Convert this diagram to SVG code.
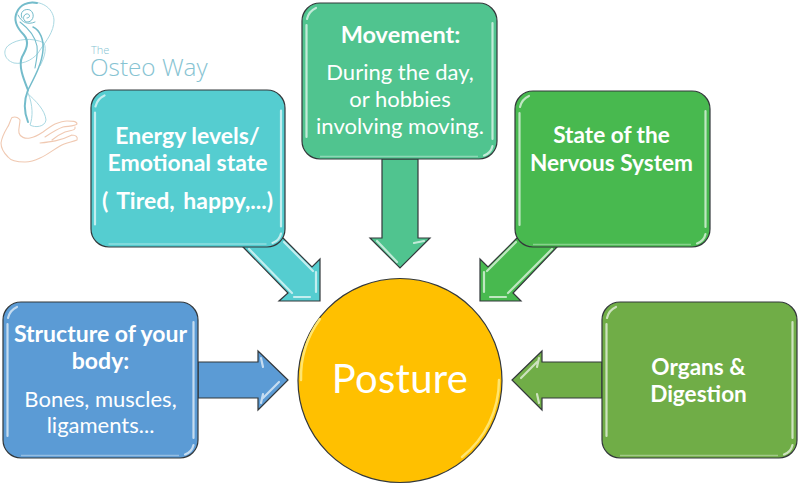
<svg xmlns="http://www.w3.org/2000/svg" xmlns:xlink="http://www.w3.org/1999/xlink" width="800" height="486" viewBox="0 0 800 486">
  <style>
    .outline { stroke: #33383b; stroke-width: 1.2; stroke-linejoin: miter; }
    .gloss { fill: none; stroke: #fff; stroke-width: 2.2; stroke-linecap: round; stroke-opacity: .65; }
    .faint { fill: none; stroke: #fff; stroke-width: 1.4; stroke-opacity: .35; }
    .t { font-family: Lato, "Open Sans", "Liberation Sans", sans-serif; fill: #fff; text-anchor: middle; font-size: 22px; }
    .b { font-weight: 700; font-size: 23px; }
    .b2 { font-weight: 700; font-size: 22.600px; }
    .head { font-weight: 700; font-size: 23.500px; }
    .swirl { fill: none; stroke: #74bccb; stroke-linecap: round; }
    .thin { fill: none; stroke: #a9d8e2; stroke-width: 1; }
    .hand { fill: none; stroke: #f0c9b2; stroke-width: 1.1; stroke-linecap: round; stroke-linejoin: round; }
    .logo { font-family: "Open Sans", Lato, "Liberation Sans", sans-serif; font-weight: 300; fill: #86c3d2; }
  </style>

  <defs>
    <!-- shared bevel highlight for the 195x156 rounded boxes -->
    <g id="box-gloss">
      <path class="gloss" d="M4.500 22V134M190.500 20V136M5 16Q7 8 14 5M190.500 143Q189 150 182 152.500"/>
      <path class="faint" d="M18 153.500H176"/>
    </g>
  </defs>

  <!-- brand mark and wordmark -->
  <g id="logo">
    <path class="thin" d="M28 3C40 0 53 7 54 20C54 32 46 41 40 50C36 58 24 65 14 63C4 60 2 50 9 45C17 39 32 37 44 43C47 50 44 58 40 66"/>
    <path class="thin" d="M27 93C36 101 45 110 46 120C45 127 35 128 30 125"/>
    <path class="swirl" stroke-width="2" d="M37 3C28 1 20 5 17 12C13 20 17 28 24 35C30 42 26 50 22 57C18 66 24 80 28 90C24 100 24 112 28 122"/>
    <path class="swirl" stroke-width="1.5" d="M33 27C40 30 44 40 43 50C42 64 34 78 28 90"/>
    <path class="swirl" stroke-width="1.100" d="M20 22C28 28 35 36 37 46C38 56 36 62 35 68"/>
    <path class="swirl" stroke-width="1" d="M22 18C19 12 25 8 30 10C35 13 34 21 28 22C23 22 22 16 26 14C30 13 31 18 27 18"/>
    <path class="swirl" stroke-width="1" d="M18 15C22 23 28 25 35 22"/>
    <path class="thin" d="M28 93C33 105 33 117 30 125"/>
    <path class="hand" d="M12 117.500C16 116 19 118 20 120C20 125 18 129 19 133C20 137 25 139 30 138C36 137 40 134 43 132C47 129 51 126 55 124C60 122 64 121 67 121C72 121 77 121 77 124C76 126 70 126 63 127C57 129 51 133 45 137M75 127C76 131 70 130 65 132C60 134 57 136 52 140M72 135C76 135 78 137 77 140C72 142 65 143 60 146C53 150 47 155 40 158C34 161 29 162 25 162C17 162 11 161 8 157C3 152 1 148 1 143C2 137 4 133 7 128C10 124 10 120 12 117.500M40 143C50 142 60 141 72 135"/>
    <text class="logo" x="91" y="54" font-size="11">The</text>
    <text class="logo" x="90" y="76" font-size="24.300">Osteo Way</text>
  </g>

  <!-- block arrows pointing at the central circle -->
  <g id="connectors">
    <g id="arrow-structure">
      <path class="outline" fill="#5b9bd5" d="M198 362H258V351L288 380L258 410V398H198Z"/>
      <path class="gloss" d="M261 358L263 367M261 403L263 394M263 398L279 382"/>
    </g>
    <g id="arrow-energy">
      <path class="outline" fill="#55cdd0" d="M243 247L288 293L279 301H320V259L312 267L283 238Z"/>
      <path class="gloss" d="M284 242L313 271M249 249L292 293M294 297H310M316 272V292"/>
    </g>
    <g id="arrow-movement">
      <path class="outline" fill="#50c48f" d="M382 159H418V238H430L400 268L370 238H382Z"/>
      <path class="gloss" d="M377 241L397 262M414 243L424 241"/>
    </g>
    <g id="arrow-nervous">
      <path class="outline" fill="#48b94f" d="M557 247L513 293L521 301H480V259L488 267L517 238Z"/>
      <path class="gloss" d="M516 242L487 271M552 249L508 293M506 297H490M484 272V292"/>
    </g>
    <g id="arrow-organs">
      <path class="outline" fill="#70ad47" d="M602 362H542V351L512 380L542 410V398H602Z"/>
      <path class="gloss" d="M539 358L537 367M539 403L537 394M537 362L521 378"/>
    </g>
  </g>

  <g id="node-structure">
    <rect class="outline" x="3" y="302" width="195" height="156" rx="18" fill="#5b9bd5"/>
    <use href="#box-gloss" xlink:href="#box-gloss" x="3" y="302"/>
    <text class="t b" x="100.500" y="342">Structure of your</text>
    <text class="t b" x="100.500" y="369">body:</text>
    <text class="t" x="100.500" y="407">Bones, muscles,</text>
    <text class="t" x="100.500" y="433">ligaments...</text>
  </g>

  <g id="node-energy">
    <rect class="outline" x="91" y="90" width="194" height="157" rx="18" fill="#55cdd0"/>
    <use href="#box-gloss" xlink:href="#box-gloss" x="90.500" y="90.500"/>
    <text class="t b" x="187.500" y="144">Energy levels/</text>
    <text class="t b" x="187.500" y="171">Emotional state</text>
    <text class="t b" x="187.500" y="209" word-spacing="3">( Tired, happy,...)</text>
  </g>

  <g id="node-movement">
    <rect class="outline" x="302" y="3" width="195" height="156" rx="18" fill="#50c48f"/>
    <use href="#box-gloss" xlink:href="#box-gloss" x="302" y="3"/>
    <text class="t head" x="400.500" y="43">Movement:</text>
    <text class="t" x="400" y="80">During the day,</text>
    <text class="t" x="400" y="107">or hobbies</text>
    <text class="t" x="400" y="134">involving moving.</text>
  </g>

  <g id="node-nervous">
    <rect class="outline" x="515" y="91" width="195" height="156" rx="18" fill="#48b94f"/>
    <use href="#box-gloss" xlink:href="#box-gloss" x="515" y="91"/>
    <text class="t b2" x="611.500" y="143">State of the</text>
    <text class="t b2" x="611.500" y="171">Nervous System</text>
  </g>

  <g id="node-organs">
    <rect class="outline" x="602" y="302" width="195" height="156" rx="18" fill="#70ad47"/>
    <use href="#box-gloss" xlink:href="#box-gloss" x="602" y="302"/>
    <text class="t b2" x="698.500" y="375">Organs &amp;</text>
    <text class="t b2" x="698.500" y="402">Digestion</text>
  </g>

  <g id="node-posture">
    <circle class="outline" cx="400" cy="380.500" r="102" fill="#ffc000"/>
    <path d="M320 319A99 99 0 0 0 301 380" fill="none" stroke="#ffe56f" stroke-width="2.500" stroke-linecap="round"/>
    <path d="M499 380A99 99 0 0 1 462 457" fill="none" stroke="#ffe56f" stroke-width="2.500" stroke-linecap="round"/>
    <text x="400" y="393" font-family="Lato, 'Open Sans', 'Liberation Sans', sans-serif" font-size="40" letter-spacing=".3" fill="#fff" text-anchor="middle">Posture</text>
  </g>
</svg>
